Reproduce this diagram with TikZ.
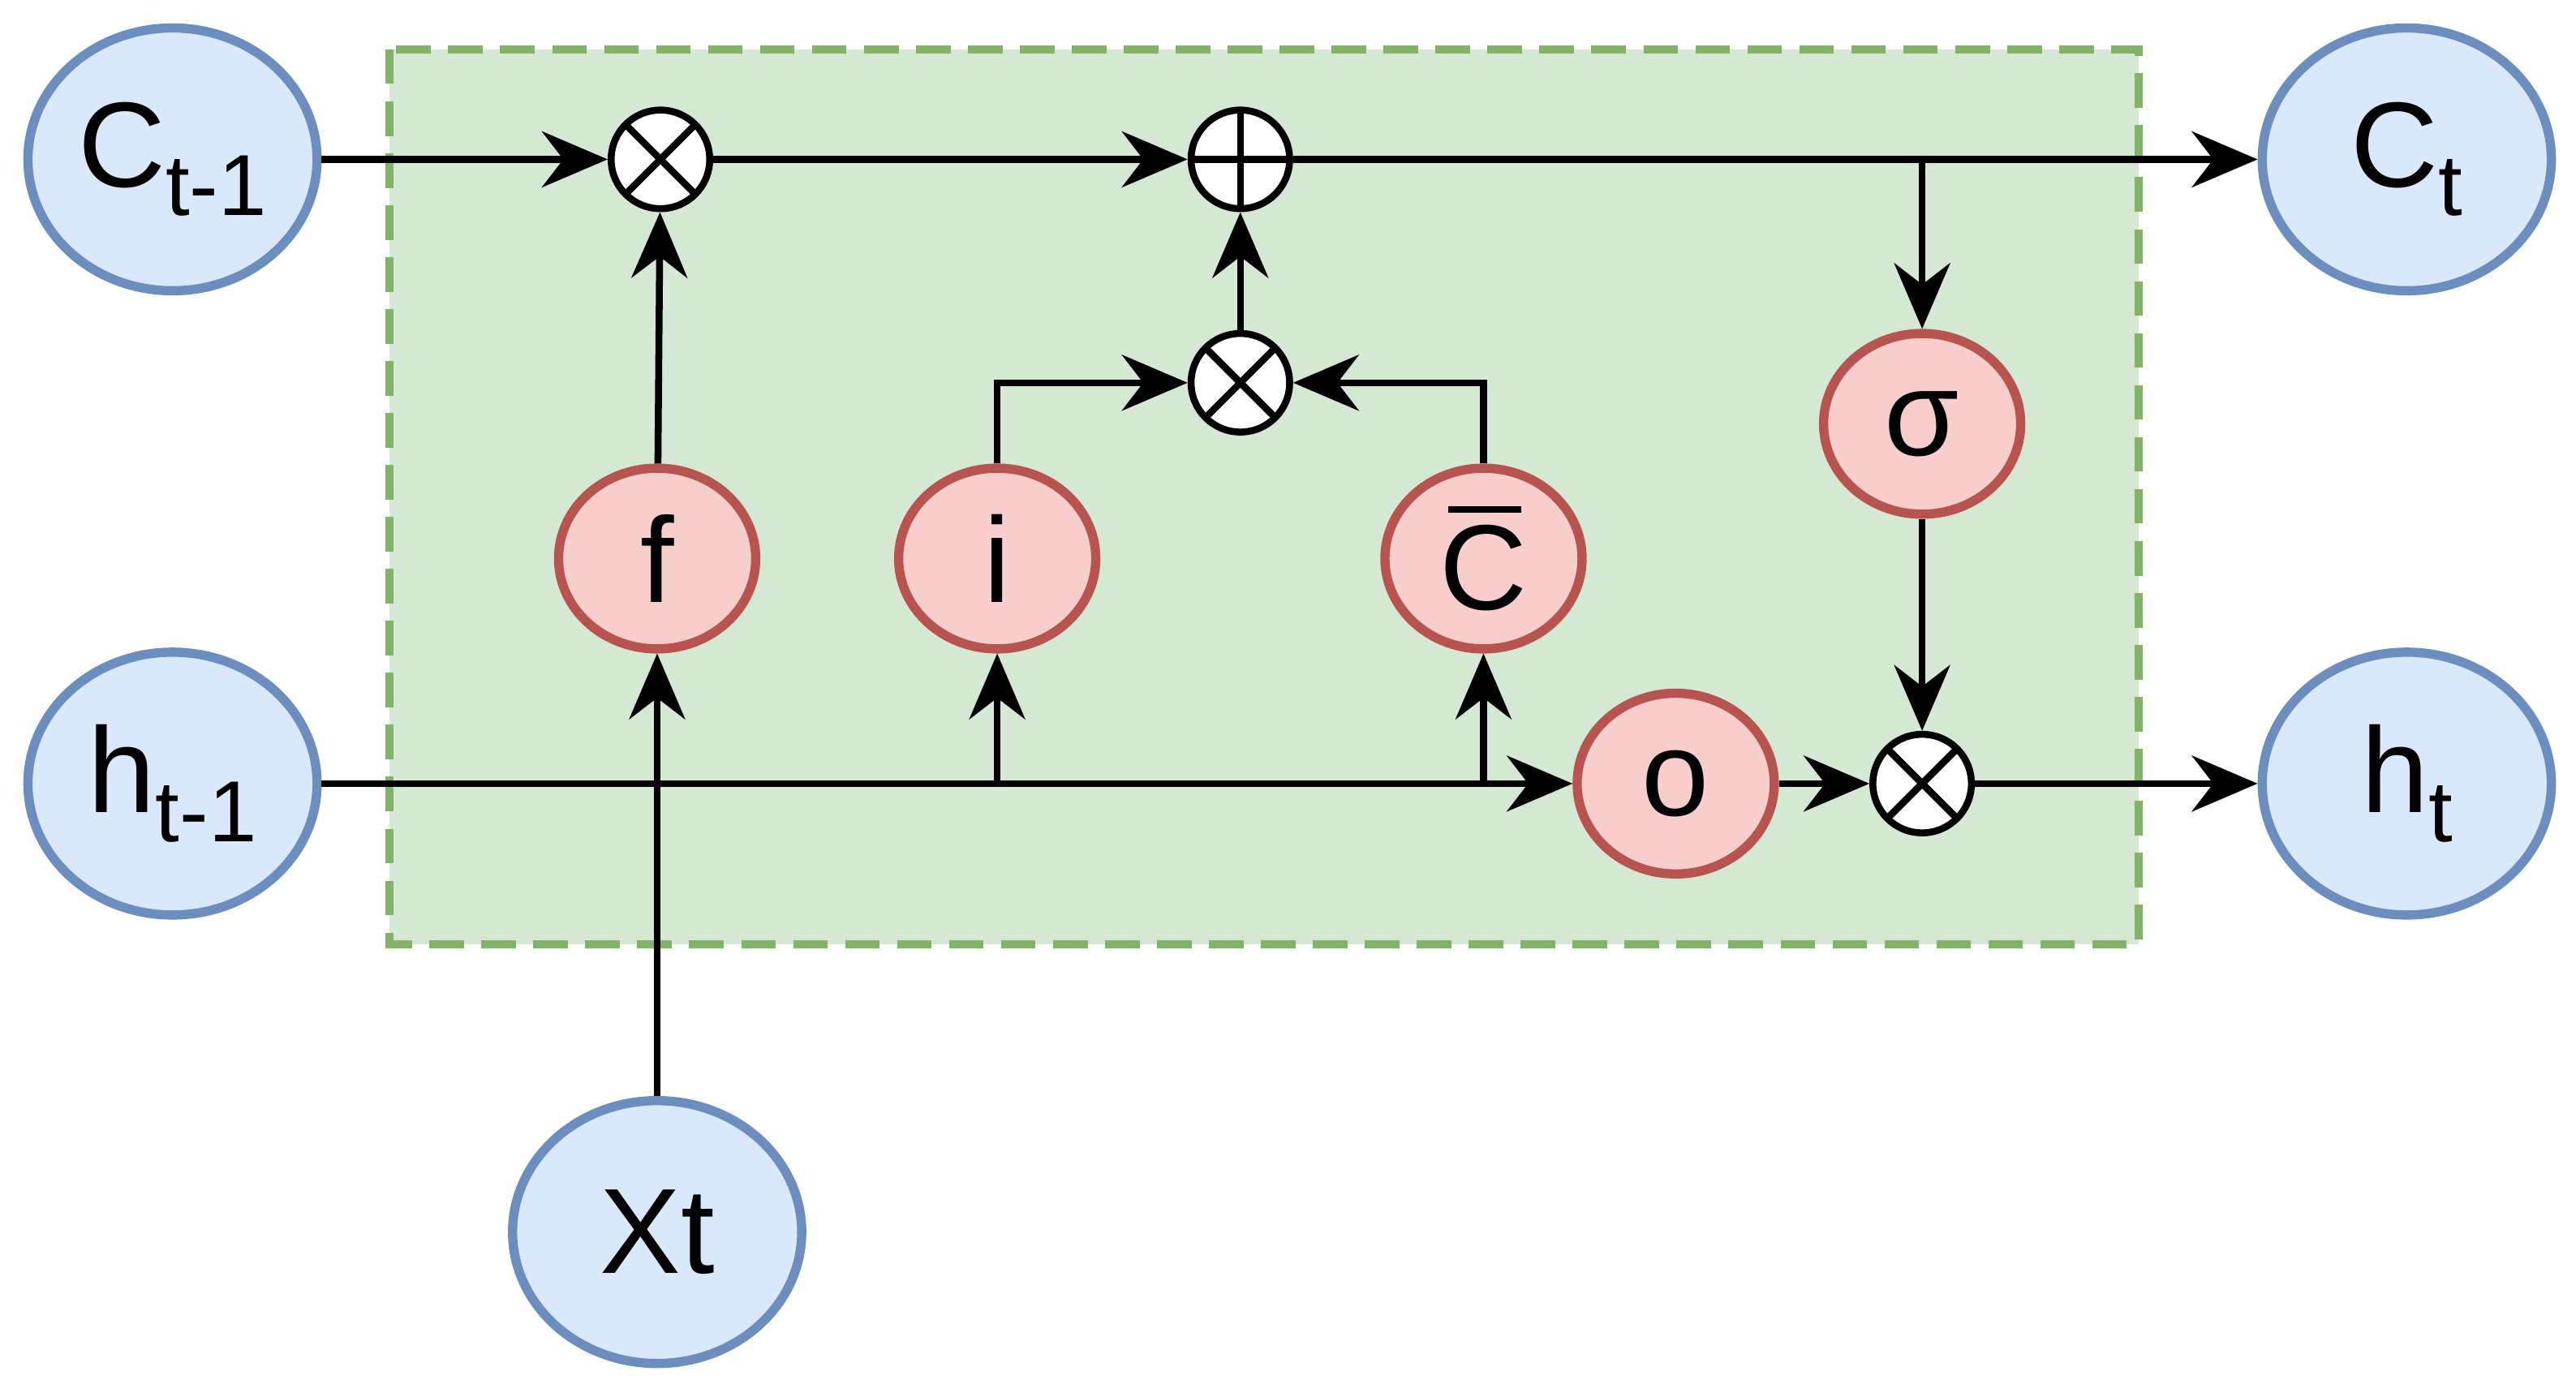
\documentclass[tikz,border=0pt]{standalone}
\usepackage{fontspec}
\setmainfont{Liberation Sans}
\usetikzlibrary{arrows.meta,shapes.geometric}
\definecolor{blueF}{HTML}{DAE8FC}\definecolor{blueD}{HTML}{6C8EBF}
\definecolor{redF}{HTML}{F8CECC}\definecolor{redD}{HTML}{B85450}
\definecolor{greenF}{HTML}{D5E8D4}\definecolor{greenD}{HTML}{82B366}
\newcommand{\sbs}[1]{\raisebox{-0.45ex}{\fontsize{15}{15}\selectfont #1}}
\begin{document}
\begin{tikzpicture}[x=0.1mm,y=-0.1mm,line width=1.2pt,
    >={Stealth[length=4mm,width=3.4mm,fill=black]},
    state/.style={ellipse,draw=blueD,fill=blueF,line width=1.6pt,inner sep=0pt,minimum width=1.76cm,minimum height=1.6cm,font=\fontsize{21}{23}\selectfont},
    gate/.style={ellipse,draw=redD,fill=redF,line width=1.6pt,inner sep=0pt,minimum width=1.2cm,minimum height=1.1cm,font=\fontsize{21}{23}\selectfont},
    mult/.style={circle,draw,fill=white,minimum size=0.6cm,inner sep=0pt,
        path picture={\draw (path picture bounding box.north west)--(path picture bounding box.south east)
        (path picture bounding box.north east)--(path picture bounding box.south west);}},
    plusop/.style={circle,draw,fill=white,minimum size=0.6cm,inner sep=0pt,
        path picture={\draw (path picture bounding box.north)--(path picture bounding box.south)
        (path picture bounding box.east)--(path picture bounding box.west);}}]
\useasboundingbox (0,0) rectangle (1568,850);
\fill[white] (0,0) rectangle (1568,850);
\draw[greenD,fill=greenF,line width=1.4pt,dash pattern=on 6pt off 3pt] (237,30) rectangle (1302,575);

\node[state] (cprev) at (105,97) {C\sbs{t-1}};
\node[state] (hprev) at (105,477) {h\sbs{t-1}};
\node[state] (xt) at (400,750) {Xt};
\node[state] (ct) at (1465,97) {C\sbs{t}};
\node[state] (ht) at (1465,477) {h\sbs{t}};

\node[gate] (f) at (400,340) {f};
\node[gate] (i) at (607,340) {i};
\node[gate] (cbar) at (903,340) {C\llap{\raisebox{0.8em}{\rule{0.6em}{1pt}}\hspace{0.05em}}};
\node[gate] (sig) at (1170,258) {σ};
\node[gate] (o) at (1020,477) {o};

\node[mult] (m1) at (402,97) {};
\node[plusop] (pl) at (755,97) {};
\node[mult] (m2) at (755,233) {};
\node[mult] (m3) at (1170,477) {};

\coordinate (br1) at (1170,97);
\coordinate (bi) at (607,477);
\coordinate (bc) at (903,477);

\draw[->] (cprev) -- (m1);
\draw[->] (m1) -- (pl);
\draw[->] (pl) -- (ct);
\draw[->] (br1) -- (sig);
\draw[->] (sig) -- (m3);
\draw[->] (o) -- (m3);
\draw[->] (m3) -- (ht);
\draw[->] (hprev) -- (o);
\draw[->] (bi) -- (i);
\draw[->] (bc) -- (cbar);
\draw[->] (xt) -- (f);
\draw[->] (f) -- (m1);
\draw[->] (i) |- (m2);
\draw[->] (cbar) |- (m2);
\draw[->] (m2) -- (pl);
\end{tikzpicture}
\end{document}
